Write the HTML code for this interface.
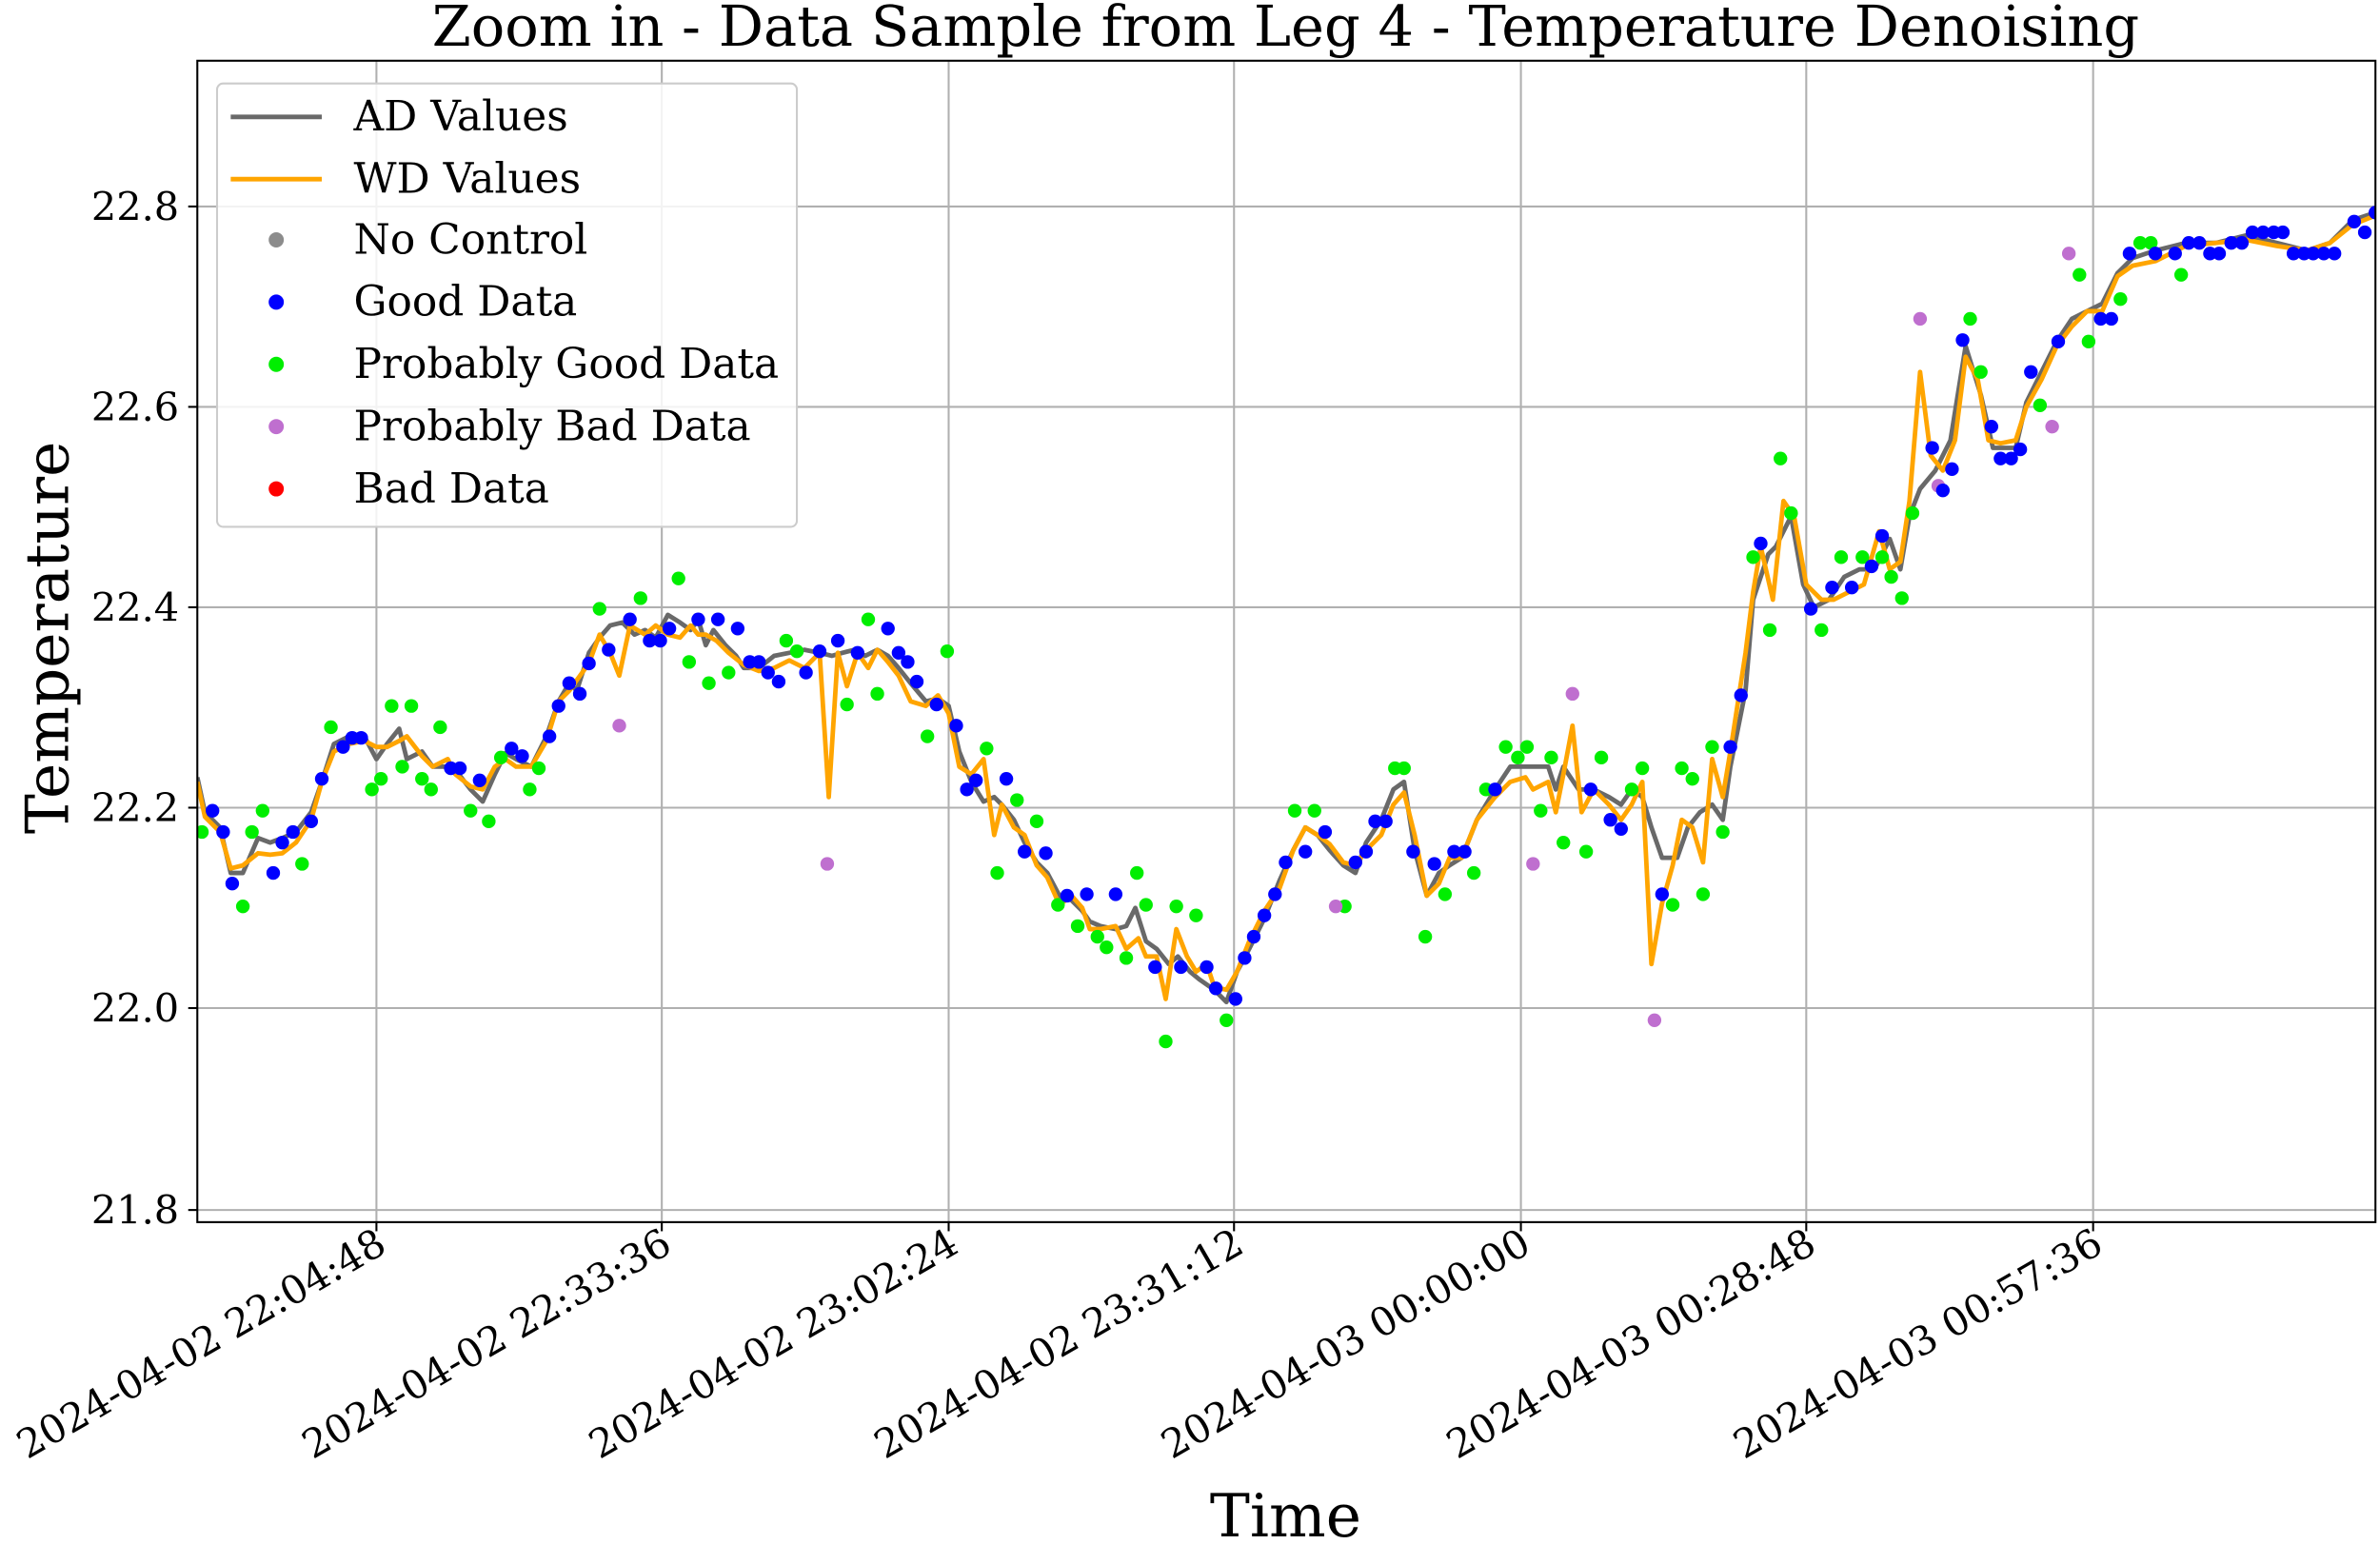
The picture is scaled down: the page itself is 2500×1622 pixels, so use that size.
<!DOCTYPE html>
<html><head><meta charset="utf-8"><style>html,body{margin:0;padding:0;background:#fff}svg{display:block}text{font-family:"DejaVu Serif","Liberation Serif",serif;fill:#000}</style></head>
<body>
<svg width="2500" height="1622" viewBox="0 0 1568 1017" preserveAspectRatio="none" xmlns="http://www.w3.org/2000/svg">
<rect x="0" y="0" width="1568" height="1017" fill="#fff"/>
<text x="847" y="30" font-size="37" text-anchor="middle">Zoom in - Data Sample from Leg 4 - Temperature Denoising</text>
<g stroke="#b0b0b0" stroke-width="1.3">
<line x1="248" y1="40" x2="248" y2="805"/><line x1="436" y1="40" x2="436" y2="805"/><line x1="625" y1="40" x2="625" y2="805"/><line x1="813" y1="40" x2="813" y2="805"/><line x1="1002" y1="40" x2="1002" y2="805"/><line x1="1190" y1="40" x2="1190" y2="805"/><line x1="1379" y1="40" x2="1379" y2="805"/>
<line x1="130" y1="136" x2="1565" y2="136"/><line x1="130" y1="268" x2="1565" y2="268"/><line x1="130" y1="400" x2="1565" y2="400"/><line x1="130" y1="532" x2="1565" y2="532"/><line x1="130" y1="664" x2="1565" y2="664"/><line x1="130" y1="797" x2="1565" y2="797"/>
</g>
<svg x="130" y="40" width="1435" height="765" viewBox="130 40 1435 765" overflow="hidden">
<polyline fill="none" stroke="#696969" stroke-width="3" stroke-linejoin="round" points="130,512 135,535 145,545 152,575 160,575 170,552 178,555 186,552 195,548 205,535 212,515 220,490 230,485 240,485 248,500 255,490 263,480 268,500 278,495 285,505 295,505 300,507 310,520 318,528 326,510 333,496 340,500 350,505 360,485 368,462 375,450 380,455 388,430 395,420 402,412 410,410 418,418 425,415 432,420 440,405 448,410 455,415 460,408 465,425 470,415 478,425 485,432 490,440 500,440 510,432 520,430 530,428 540,430 548,432 555,430 563,428 570,432 578,428 585,432 592,440 600,450 610,462 618,460 625,465 632,495 640,515 648,528 655,525 660,530 668,540 675,555 683,568 690,575 698,590 706,593 713,600 718,607 725,610 735,612 742,610 748,598 755,620 762,625 770,635 776,630 784,640 790,645 800,652 808,660 815,640 823,625 833,605 843,580 852,560 860,545 868,550 876,560 885,570 893,575 900,555 910,540 918,520 925,515 932,560 940,590 948,575 955,570 963,565 973,540 985,520 995,505 1005,505 1010,505 1020,505 1025,520 1030,505 1040,520 1050,520 1060,525 1068,530 1075,520 1082,525 1088,545 1095,565 1105,565 1112,545 1120,535 1128,530 1135,540 1140,505 1150,455 1155,395 1165,365 1170,360 1180,340 1188,385 1195,400 1205,395 1215,380 1225,375 1235,375 1245,355 1252,375 1258,340 1265,322 1275,310 1285,290 1295,228 1305,260 1313,295 1320,295 1328,295 1335,265 1345,245 1355,225 1365,210 1375,205 1385,200 1395,180 1405,170 1420,165 1440,160 1460,160 1480,155 1500,160 1520,165 1535,160 1550,145 1565,140"/>
<polyline fill="none" stroke="#ffa500" stroke-width="3" stroke-linejoin="round" points="130,515 135,538 145,548 152,572 160,570 170,562 178,563 186,562 195,555 205,540 212,515 220,495 230,490 240,488 248,492 255,492 263,488 268,485 278,498 285,505 295,500 300,510 310,518 318,520 326,505 333,500 340,505 350,505 360,488 368,462 375,455 380,448 388,437 395,418 402,430 408,445 415,412 425,418 432,412 440,418 448,420 455,412 460,418 465,418 472,422 480,430 490,438 500,442 510,440 520,435 530,440 540,430 546,525 552,430 558,452 565,430 572,440 578,428 585,436 592,445 600,462 610,465 618,458 625,470 632,505 640,510 648,500 655,550 660,530 668,545 675,550 683,570 690,578 698,596 706,590 713,598 718,612 725,612 735,610 742,625 750,618 755,630 762,630 768,658 775,612 782,630 788,640 795,635 800,650 808,652 815,640 823,620 833,600 843,585 852,560 860,545 868,550 876,556 885,568 893,570 900,560 910,550 918,530 925,522 932,550 940,590 948,582 955,565 963,565 973,540 985,525 995,515 1005,512 1010,520 1020,515 1025,535 1030,510 1036,478 1042,535 1050,520 1060,530 1068,540 1075,530 1082,515 1088,635 1095,595 1102,570 1108,540 1115,545 1122,568 1128,500 1135,525 1140,495 1150,430 1155,390 1160,360 1168,395 1175,330 1182,340 1190,385 1200,395 1208,395 1218,390 1228,385 1238,350 1245,375 1252,370 1258,330 1265,245 1272,300 1280,310 1288,290 1295,235 1303,250 1310,290 1318,292 1328,290 1335,268 1345,250 1355,228 1365,215 1375,205 1385,205 1395,182 1405,175 1420,172 1440,162 1460,160 1480,158 1500,162 1520,165 1535,160 1550,148 1565,142"/>
<g fill="#00ee00">
<circle cx="133" cy="548" r="4.5"/><circle cx="160" cy="597" r="4.5"/><circle cx="166" cy="548" r="4.5"/><circle cx="173" cy="534" r="4.5"/><circle cx="199" cy="569" r="4.5"/><circle cx="218" cy="479" r="4.5"/><circle cx="245" cy="520" r="4.5"/><circle cx="251" cy="513" r="4.5"/><circle cx="258" cy="465" r="4.5"/><circle cx="271" cy="465" r="4.5"/><circle cx="265" cy="505" r="4.5"/><circle cx="278" cy="513" r="4.5"/><circle cx="284" cy="520" r="4.5"/><circle cx="290" cy="479" r="4.5"/><circle cx="310" cy="534" r="4.5"/><circle cx="322" cy="541" r="4.5"/><circle cx="330" cy="499" r="4.5"/><circle cx="349" cy="520" r="4.5"/><circle cx="355" cy="506" r="4.5"/><circle cx="395" cy="401" r="4.5"/><circle cx="422" cy="394" r="4.5"/><circle cx="447" cy="381" r="4.5"/><circle cx="454" cy="436" r="4.5"/><circle cx="467" cy="450" r="4.5"/><circle cx="480" cy="443" r="4.5"/><circle cx="518" cy="422" r="4.5"/><circle cx="525" cy="429" r="4.5"/><circle cx="558" cy="464" r="4.5"/><circle cx="572" cy="408" r="4.5"/><circle cx="578" cy="457" r="4.5"/><circle cx="611" cy="485" r="4.5"/><circle cx="624" cy="429" r="4.5"/><circle cx="650" cy="493" r="4.5"/><circle cx="657" cy="575" r="4.5"/><circle cx="670" cy="527" r="4.5"/><circle cx="683" cy="541" r="4.5"/><circle cx="697" cy="596" r="4.5"/><circle cx="710" cy="610" r="4.5"/><circle cx="723" cy="617" r="4.5"/><circle cx="729" cy="624" r="4.5"/><circle cx="742" cy="631" r="4.5"/><circle cx="749" cy="575" r="4.5"/><circle cx="755" cy="596" r="4.5"/><circle cx="768" cy="686" r="4.5"/><circle cx="775" cy="597" r="4.5"/><circle cx="788" cy="603" r="4.5"/><circle cx="808" cy="672" r="4.5"/><circle cx="853" cy="534" r="4.5"/><circle cx="866" cy="534" r="4.5"/><circle cx="886" cy="597" r="4.5"/><circle cx="919" cy="506" r="4.5"/><circle cx="925" cy="506" r="4.5"/><circle cx="939" cy="617" r="4.5"/><circle cx="952" cy="589" r="4.5"/><circle cx="971" cy="575" r="4.5"/><circle cx="979" cy="520" r="4.5"/><circle cx="992" cy="492" r="4.5"/><circle cx="1000" cy="499" r="4.5"/><circle cx="1006" cy="492" r="4.5"/><circle cx="1015" cy="534" r="4.5"/><circle cx="1022" cy="499" r="4.5"/><circle cx="1030" cy="555" r="4.5"/><circle cx="1045" cy="561" r="4.5"/><circle cx="1055" cy="499" r="4.5"/><circle cx="1075" cy="520" r="4.5"/><circle cx="1082" cy="506" r="4.5"/><circle cx="1102" cy="596" r="4.5"/><circle cx="1108" cy="506" r="4.5"/><circle cx="1115" cy="513" r="4.5"/><circle cx="1122" cy="589" r="4.5"/><circle cx="1128" cy="492" r="4.5"/><circle cx="1135" cy="548" r="4.5"/><circle cx="1155" cy="367" r="4.5"/><circle cx="1166" cy="415" r="4.5"/><circle cx="1173" cy="302" r="4.5"/><circle cx="1180" cy="338" r="4.5"/><circle cx="1200" cy="415" r="4.5"/><circle cx="1213" cy="367" r="4.5"/><circle cx="1227" cy="367" r="4.5"/><circle cx="1240" cy="367" r="4.5"/><circle cx="1246" cy="380" r="4.5"/><circle cx="1253" cy="394" r="4.5"/><circle cx="1260" cy="338" r="4.5"/><circle cx="1298" cy="210" r="4.5"/><circle cx="1305" cy="245" r="4.5"/><circle cx="1344" cy="267" r="4.5"/><circle cx="1370" cy="181" r="4.5"/><circle cx="1376" cy="225" r="4.5"/><circle cx="1397" cy="197" r="4.5"/><circle cx="1410" cy="160" r="4.5"/><circle cx="1417" cy="160" r="4.5"/><circle cx="1437" cy="181" r="4.5"/>
</g>
<g fill="#bf6fcf">
<circle cx="408" cy="478" r="4.5"/><circle cx="545" cy="569" r="4.5"/><circle cx="880" cy="597" r="4.5"/><circle cx="1010" cy="569" r="4.5"/><circle cx="1036" cy="457" r="4.5"/><circle cx="1090" cy="672" r="4.5"/><circle cx="1265" cy="210" r="4.5"/><circle cx="1277" cy="320" r="4.5"/><circle cx="1352" cy="281" r="4.5"/><circle cx="1363" cy="167" r="4.5"/>
</g>
<g fill="#0000ff">
<circle cx="140" cy="534" r="4.5"/><circle cx="147" cy="548" r="4.5"/><circle cx="153" cy="582" r="4.5"/><circle cx="180" cy="575" r="4.5"/><circle cx="186" cy="555" r="4.5"/><circle cx="193" cy="548" r="4.5"/><circle cx="205" cy="541" r="4.5"/><circle cx="212" cy="513" r="4.5"/><circle cx="226" cy="492" r="4.5"/><circle cx="232" cy="486" r="4.5"/><circle cx="238" cy="486" r="4.5"/><circle cx="297" cy="506" r="4.5"/><circle cx="303" cy="506" r="4.5"/><circle cx="316" cy="514" r="4.5"/><circle cx="337" cy="493" r="4.5"/><circle cx="344" cy="498" r="4.5"/><circle cx="362" cy="485" r="4.5"/><circle cx="368" cy="465" r="4.5"/><circle cx="375" cy="450" r="4.5"/><circle cx="382" cy="457" r="4.5"/><circle cx="388" cy="437" r="4.5"/><circle cx="401" cy="428" r="4.5"/><circle cx="415" cy="408" r="4.5"/><circle cx="428" cy="422" r="4.5"/><circle cx="435" cy="422" r="4.5"/><circle cx="441" cy="414" r="4.5"/><circle cx="460" cy="408" r="4.5"/><circle cx="473" cy="408" r="4.5"/><circle cx="486" cy="414" r="4.5"/><circle cx="494" cy="436" r="4.5"/><circle cx="500" cy="436" r="4.5"/><circle cx="506" cy="443" r="4.5"/><circle cx="513" cy="449" r="4.5"/><circle cx="531" cy="443" r="4.5"/><circle cx="540" cy="429" r="4.5"/><circle cx="552" cy="422" r="4.5"/><circle cx="565" cy="430" r="4.5"/><circle cx="585" cy="414" r="4.5"/><circle cx="592" cy="430" r="4.5"/><circle cx="598" cy="436" r="4.5"/><circle cx="604" cy="449" r="4.5"/><circle cx="617" cy="464" r="4.5"/><circle cx="630" cy="478" r="4.5"/><circle cx="637" cy="520" r="4.5"/><circle cx="643" cy="514" r="4.5"/><circle cx="663" cy="513" r="4.5"/><circle cx="675" cy="561" r="4.5"/><circle cx="689" cy="562" r="4.5"/><circle cx="703" cy="590" r="4.5"/><circle cx="716" cy="589" r="4.5"/><circle cx="735" cy="589" r="4.5"/><circle cx="761" cy="637" r="4.5"/><circle cx="778" cy="637" r="4.5"/><circle cx="795" cy="637" r="4.5"/><circle cx="801" cy="651" r="4.5"/><circle cx="814" cy="658" r="4.5"/><circle cx="820" cy="631" r="4.5"/><circle cx="826" cy="617" r="4.5"/><circle cx="833" cy="603" r="4.5"/><circle cx="840" cy="589" r="4.5"/><circle cx="847" cy="568" r="4.5"/><circle cx="860" cy="561" r="4.5"/><circle cx="873" cy="548" r="4.5"/><circle cx="893" cy="568" r="4.5"/><circle cx="900" cy="561" r="4.5"/><circle cx="906" cy="541" r="4.5"/><circle cx="913" cy="541" r="4.5"/><circle cx="931" cy="561" r="4.5"/><circle cx="945" cy="569" r="4.5"/><circle cx="958" cy="561" r="4.5"/><circle cx="965" cy="561" r="4.5"/><circle cx="985" cy="520" r="4.5"/><circle cx="1048" cy="520" r="4.5"/><circle cx="1061" cy="540" r="4.5"/><circle cx="1068" cy="546" r="4.5"/><circle cx="1095" cy="589" r="4.5"/><circle cx="1140" cy="492" r="4.5"/><circle cx="1147" cy="458" r="4.5"/><circle cx="1160" cy="358" r="4.5"/><circle cx="1193" cy="401" r="4.5"/><circle cx="1207" cy="387" r="4.5"/><circle cx="1220" cy="387" r="4.5"/><circle cx="1233" cy="373" r="4.5"/><circle cx="1240" cy="353" r="4.5"/><circle cx="1273" cy="295" r="4.5"/><circle cx="1280" cy="323" r="4.5"/><circle cx="1286" cy="309" r="4.5"/><circle cx="1293" cy="224" r="4.5"/><circle cx="1312" cy="281" r="4.5"/><circle cx="1318" cy="302" r="4.5"/><circle cx="1325" cy="302" r="4.5"/><circle cx="1331" cy="296" r="4.5"/><circle cx="1338" cy="245" r="4.5"/><circle cx="1356" cy="225" r="4.5"/><circle cx="1384" cy="210" r="4.5"/><circle cx="1391" cy="210" r="4.5"/><circle cx="1403" cy="167" r="4.5"/><circle cx="1420" cy="167" r="4.5"/><circle cx="1433" cy="167" r="4.5"/><circle cx="1442" cy="160" r="4.5"/><circle cx="1449" cy="160" r="4.5"/><circle cx="1456" cy="167" r="4.5"/><circle cx="1462" cy="167" r="4.5"/><circle cx="1470" cy="160" r="4.5"/><circle cx="1477" cy="160" r="4.5"/><circle cx="1484" cy="153" r="4.5"/><circle cx="1491" cy="153" r="4.5"/><circle cx="1498" cy="153" r="4.5"/><circle cx="1504" cy="153" r="4.5"/><circle cx="1511" cy="167" r="4.5"/><circle cx="1518" cy="167" r="4.5"/><circle cx="1524" cy="167" r="4.5"/><circle cx="1531" cy="167" r="4.5"/><circle cx="1538" cy="167" r="4.5"/><circle cx="1551" cy="146" r="4.5"/><circle cx="1558" cy="153" r="4.5"/><circle cx="1565" cy="140" r="4.5"/>
</g>
</svg>
<rect x="130" y="40" width="1435" height="765" fill="none" stroke="#000" stroke-width="1.3"/>
<g stroke="#000" stroke-width="1.3">
<line x1="124" y1="136" x2="130" y2="136"/><line x1="124" y1="268" x2="130" y2="268"/><line x1="124" y1="400" x2="130" y2="400"/><line x1="124" y1="532" x2="130" y2="532"/><line x1="124" y1="664" x2="130" y2="664"/><line x1="124" y1="797" x2="130" y2="797"/>
<line x1="248" y1="805" x2="248" y2="811"/><line x1="436" y1="805" x2="436" y2="811"/><line x1="625" y1="805" x2="625" y2="811"/><line x1="813" y1="805" x2="813" y2="811"/><line x1="1002" y1="805" x2="1002" y2="811"/><line x1="1190" y1="805" x2="1190" y2="811"/><line x1="1379" y1="805" x2="1379" y2="811"/>
</g>
<g font-size="26" text-anchor="end">
<text x="118" y="145">22.8</text><text x="118" y="277">22.6</text><text x="118" y="409">22.4</text><text x="118" y="541">22.2</text><text x="118" y="673">22.0</text><text x="118" y="806">21.8</text>
</g>
<g font-size="26" text-anchor="end">
<text transform="translate(256,824) rotate(-30)">2024-04-02 22:04:48</text>
<text transform="translate(444,824) rotate(-30)">2024-04-02 22:33:36</text>
<text transform="translate(633,824) rotate(-30)">2024-04-02 23:02:24</text>
<text transform="translate(821,824) rotate(-30)">2024-04-02 23:31:12</text>
<text transform="translate(1010,824) rotate(-30)">2024-04-03 00:00:00</text>
<text transform="translate(1198,824) rotate(-30)">2024-04-03 00:28:48</text>
<text transform="translate(1387,824) rotate(-30)">2024-04-03 00:57:36</text>
</g>
<text x="847" y="1012" font-size="39.5" text-anchor="middle">Time</text>
<text transform="translate(45,420) rotate(-90)" font-size="39.5" text-anchor="middle">Temperature</text>
<rect x="143" y="55" width="382" height="292" rx="4" fill="#fff" fill-opacity="0.85" stroke="#cccccc" stroke-width="1.3"/>
<line x1="152" y1="77" x2="212" y2="77" stroke="#696969" stroke-width="3"/>
<line x1="152" y1="118" x2="212" y2="118" stroke="#ffa500" stroke-width="3"/>
<circle cx="182" cy="158" r="5" fill="#8c8c8c"/><circle cx="182" cy="199" r="5" fill="#0000ff"/><circle cx="182" cy="240" r="5" fill="#00ee00"/><circle cx="182" cy="281" r="5" fill="#bf6fcf"/><circle cx="182" cy="322" r="5" fill="#ff0000"/>
<g font-size="27.5">
<text x="233" y="86">AD Values</text><text x="233" y="127">WD Values</text><text x="233" y="167">No Control</text><text x="233" y="208">Good Data</text><text x="233" y="249">Probably Good Data</text><text x="233" y="290">Probably Bad Data</text><text x="233" y="331">Bad Data</text>
</g>
</svg>
</body></html>
